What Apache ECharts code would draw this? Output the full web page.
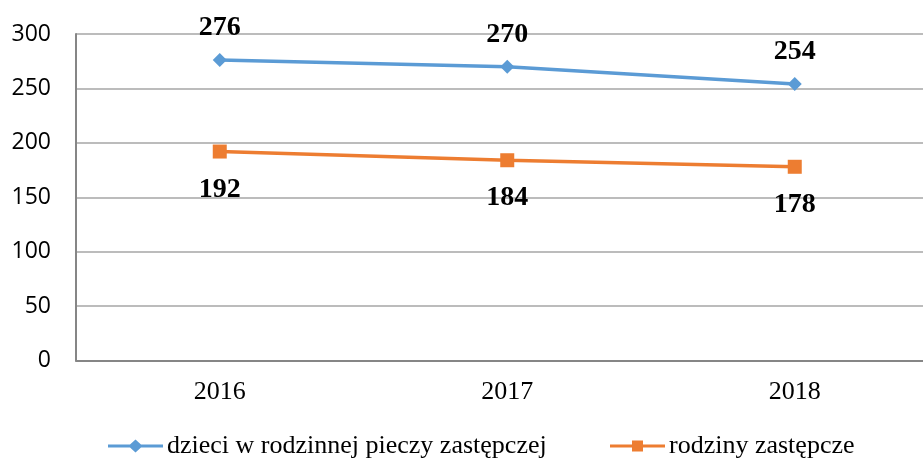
<!DOCTYPE html>
<html><head><meta charset="utf-8">
<script src="https://cdn.jsdelivr.net/npm/echarts@6/dist/echarts.min.js"></script>
<style>html,body{margin:0;padding:0;background:#fff}#c{width:923px;height:459px}</style>
</head><body><div id="c"></div>
<script>
const categories = ['2016', '2017', '2018'];
const seriesNames = ['dzieci w rodzinnej pieczy zastępczej', 'rodziny zastępcze'];
const dzieci = [276, 270, 254];
const rodziny = [192, 184, 178];
const yTicks = [0, 50, 100, 150, 200, 250, 300];

const chart = echarts.init(document.getElementById('c'));
const labelStyle = {fontFamily: 'Liberation Serif', fontWeight: 'bold', fontSize: 28, color: '#000'};
const legendText = {fontFamily: 'Liberation Serif', fontSize: 26, color: '#000', padding: [0,0,0,-1]};
const diamondIcon = 'path://M0,5 L22,5 L27.5,0 L33,5 L55,5 L55,8 L33,8 L27.5,13 L22,8 L0,8 Z';
const squareIcon = 'path://M0,4 L22,4 L22,0 L33,0 L33,4 L55,4 L55,7 L33,7 L33,11 L22,11 L22,7 L0,7 Z';
chart.setOption({
  animation: false,
  grid: {left: 76, top: 34, width: 862.5, height: 326.5, outerBoundsMode: 'none', containLabel: false},
  legend: [
    {left: 108, top: 433, padding: 0, itemWidth: 55, itemHeight: 13, textStyle: legendText,
     data: [{name: seriesNames[0], icon: diamondIcon}]},
    {left: 610, top: 433, padding: 0, itemWidth: 55, itemHeight: 11, textStyle: legendText,
     data: [{name: seriesNames[1], icon: squareIcon}]}
  ],
  xAxis: {
    type: 'category', data: categories, boundaryGap: true,
    axisLine: {lineStyle: {color: '#868686', width: 2}},
    axisTick: {show: false},
    axisLabel: {fontFamily: 'Liberation Serif', fontSize: 26, color: '#000', margin: 19}
  },
  yAxis: {
    type: 'value', min: yTicks[0], max: yTicks[yTicks.length-1], interval: 50,
    axisLine: {show: true, lineStyle: {color: '#868686', width: 2}},
    axisTick: {show: false},
    splitLine: {lineStyle: {color: '#a6a6a6', width: 1.5}},
    axisLabel: {fontFamily: 'Open Sans', fontSize: 23, color: '#000', margin: 25}
  },
  series: [
    {
      name: seriesNames[0], type: 'line', data: dzieci,
      symbol: 'diamond', symbolSize: 14,
      lineStyle: {color: '#5B9BD5', width: 3.5},
      itemStyle: {color: '#5B9BD5'},
      label: Object.assign({show: true, position: 'top', distance: 11}, labelStyle)
    },
    {
      name: seriesNames[1], type: 'line', data: rodziny,
      symbol: 'rect', symbolSize: 14,
      lineStyle: {color: '#ED7D31', width: 3.5},
      itemStyle: {color: '#ED7D31'},
      label: Object.assign({show: true, position: 'bottom', distance: 17}, labelStyle)
    }
  ]
});
</script></body></html>
